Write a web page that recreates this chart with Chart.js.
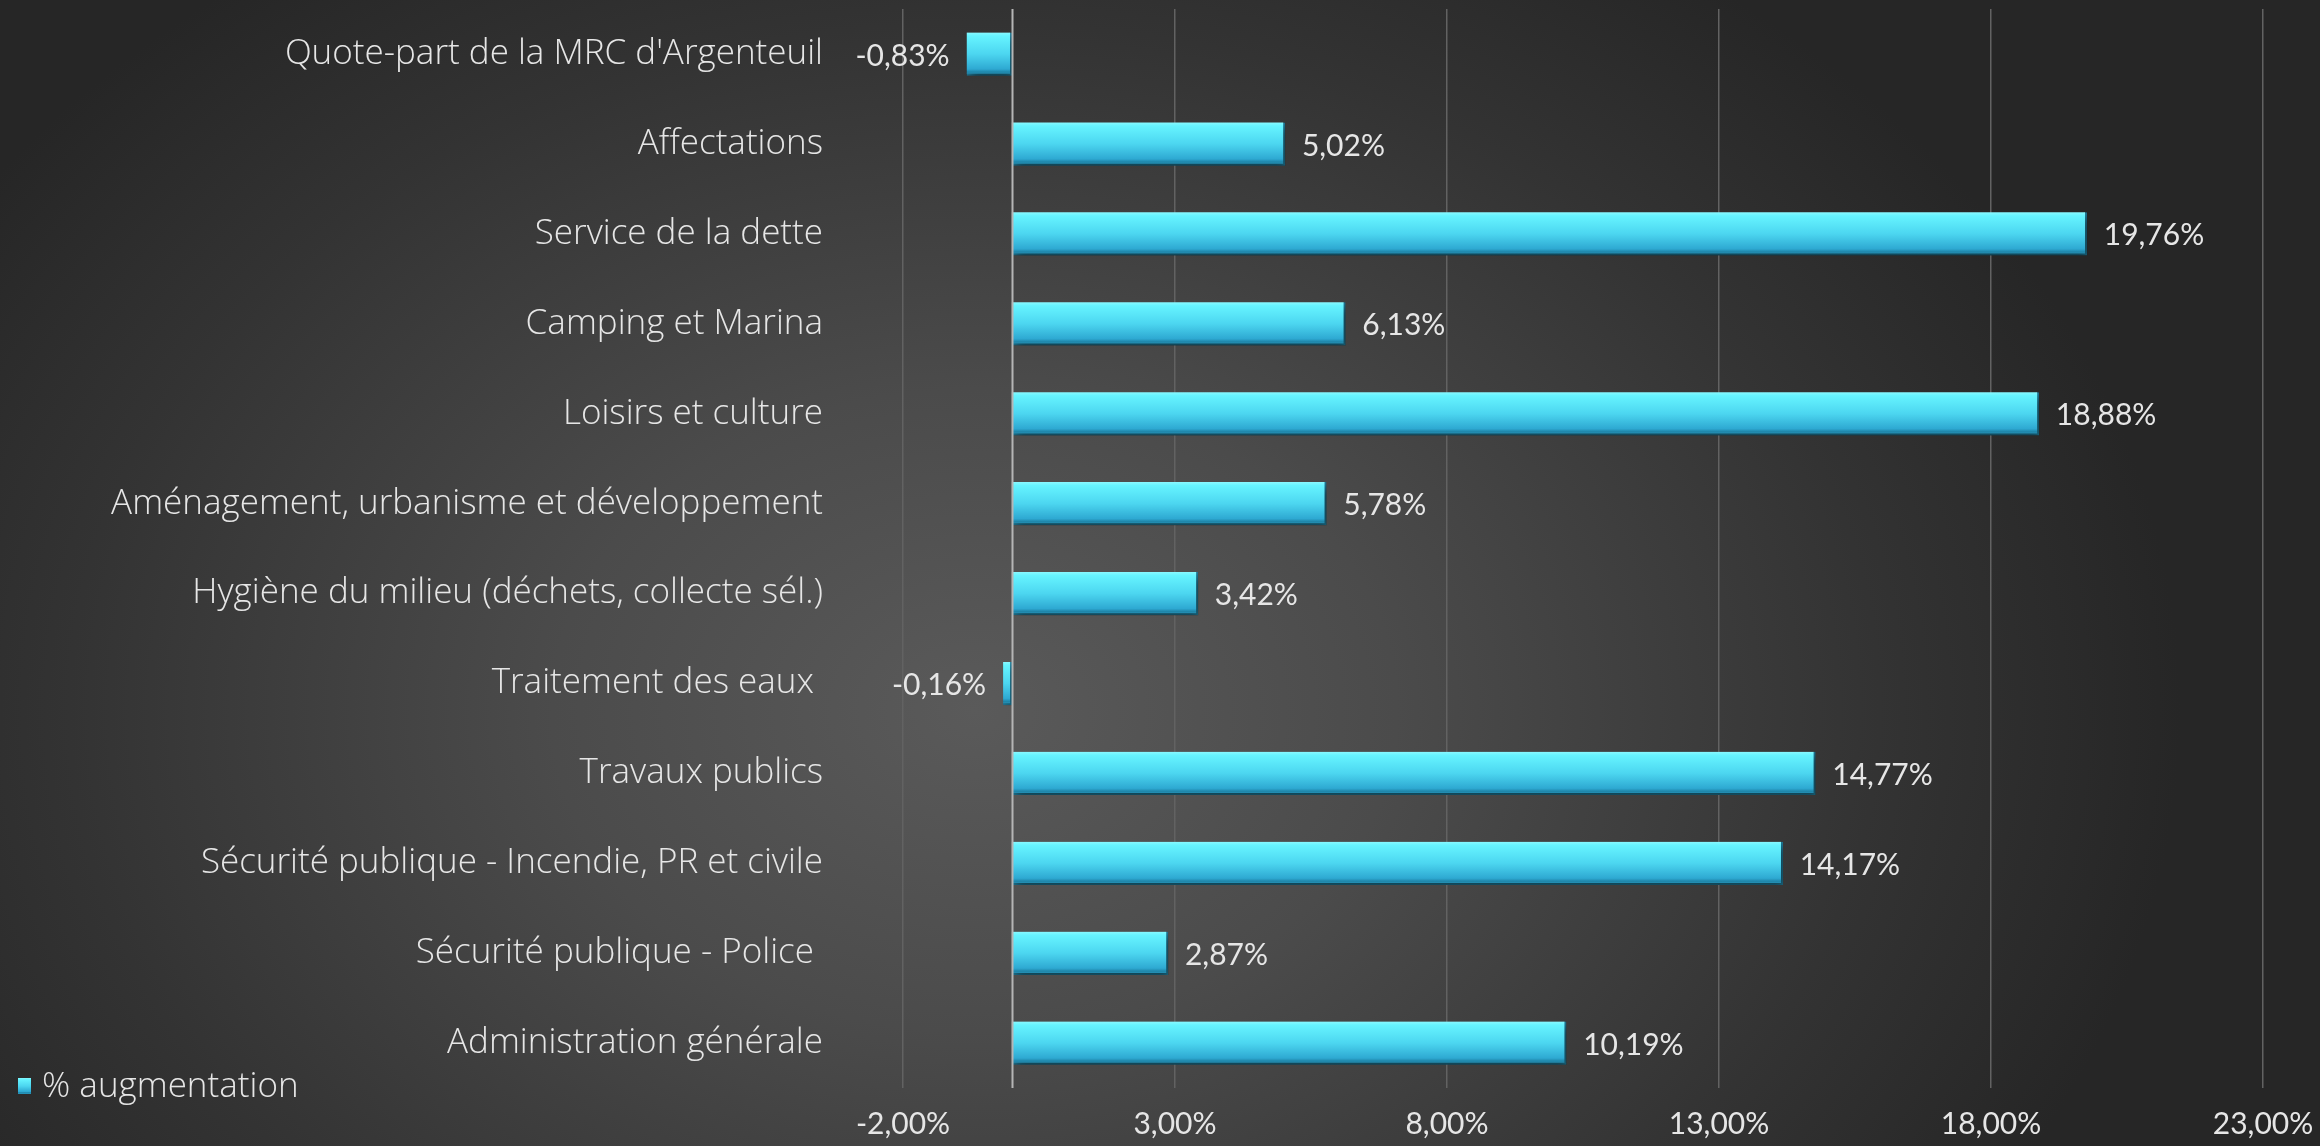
<!DOCTYPE html>
<html>
<head>
<meta charset="utf-8">
<script src="https://cdn.jsdelivr.net/npm/chart.js@4.4.0/dist/chart.umd.min.js"></script>
<style>
  html, body { margin: 0; padding: 0; }
  body {
    width: 2320px; height: 1146px; overflow: hidden;
    background: radial-gradient(ellipse 52% 80% at 42% 62%, #5a5a5a 0%, #4b4b4b 35%, #333 75%, #262626 100%);
  }
  canvas { display: block; }
</style>
</head>
<body>
<canvas id="chartAugmentation" width="2320" height="1146"></canvas>
<script>
const categories = [
    "Quote-part de la MRC d'Argenteuil",
    'Affectations',
    'Service de la dette',
    'Camping et Marina',
    'Loisirs et culture',
    'Aménagement, urbanisme et développement',
    'Hygiène du milieu (déchets, collecte sél.)',
    'Traitement des eaux ',
    'Travaux publics',
    'Sécurité publique - Incendie, PR et civile',
    'Sécurité publique - Police ',
    'Administration générale'
];
const augmentation = [-0.83, 5.02, 19.76, 6.13, 18.88, 5.78, 3.42, -0.16, 14.77, 14.17, 2.87, 10.19];
const axisMin = -2;
const axisMax = 23;
const axisStep = 5;
const seriesName = '% augmentation';

const labelFont = '"Open Sans", Lato, sans-serif';
const numberFont = 'Lato, "Open Sans", sans-serif';
const textColor = '#e6e6e6';

const pct = v => v.toFixed(2).replace('.', ',') + '%';

function barFill(ctx, top, bottom) {
    const g = ctx.createLinearGradient(0, top, 0, bottom);
    g.addColorStop(0, '#8af8ff');
    g.addColorStop(0.08, '#66f4ff');
    g.addColorStop(0.5, '#4cd6f0');
    g.addColorStop(0.85, '#2ea9d2');
    g.addColorStop(0.92, '#1f86aa');
    g.addColorStop(1, '#2a9ac0');
    return g;
}

// shadow under the bars, zero line, value labels, legend
const extras = {
    id: 'extras',
    beforeDatasetsDraw(chart) {
        const ctx = chart.ctx;
        ctx.save();
        ctx.shadowColor = 'rgba(0,0,0,0.55)';
        ctx.shadowBlur = 10;
        ctx.shadowOffsetX = 4;
        ctx.shadowOffsetY = 5;
    },
    afterDatasetsDraw(chart) {
        const ctx = chart.ctx;
        ctx.restore();
        const x = chart.scales.x;
        const area = chart.chartArea;
        const x0 = Math.round(x.getPixelForValue(0)) + 0.5;
        ctx.save();
        ctx.strokeStyle = '#b5b5b5';
        ctx.lineWidth = 2;
        ctx.beginPath();
        ctx.moveTo(x0, area.top);
        ctx.lineTo(x0, area.bottom);
        ctx.stroke();

        ctx.font = '30px ' + numberFont;
        ctx.fillStyle = textColor;
        ctx.textBaseline = 'middle';
        const meta = chart.getDatasetMeta(0);
        meta.data.forEach((bar, i) => {
            const v = augmentation[i];
            if (v >= 0) {
                ctx.textAlign = 'left';
                ctx.fillText(pct(v), bar.x + 17, bar.y + 2);
            } else {
                ctx.textAlign = 'right';
                ctx.fillText(pct(v), bar.x - 17, bar.y + 2);
            }
        });

        // legend, bottom left
        const lx = 18, ly = 1086;
        ctx.fillStyle = barFill(ctx, ly - 8, ly + 8);
        ctx.fillRect(lx, ly - 8, 13, 16);
        ctx.fillStyle = textColor;
        ctx.textAlign = 'left';
        ctx.font = '300 35px ' + labelFont;
        ctx.fillText(seriesName, lx + 24, ly + 1);
        ctx.restore();
    }
};

const ctx1 = document.getElementById('chartAugmentation').getContext('2d');
new Chart(ctx1, {
    type: 'bar',
    data: {
        labels: categories,
        datasets: [{
            label: seriesName,
            data: augmentation,
            backgroundColor: (c) => {
                const chart = c.chart;
                if (!chart.chartArea || c.dataIndex === undefined) return '#4cd6f0';
                const y = chart.scales.y.getPixelForValue(c.dataIndex);
                return barFill(chart.ctx, y - 21.5, y + 21.5);
            },
            borderColor: '#1f7f9f',
            borderWidth: { top: 0, bottom: 2, right: 2, left: 0 },
            barThickness: 43,
            borderSkipped: false
        }]
    },
    plugins: [extras],
    options: {
        indexAxis: 'y',
        responsive: false,
        animation: false,
        devicePixelRatio: 1,
        layout: { padding: { top: 9, right: 57, left: 0, bottom: 0 } },
        plugins: {
            legend: { display: false },
            tooltip: { enabled: false }
        },
        scales: {
            x: {
                min: axisMin,
                max: axisMax,
                ticks: {
                    stepSize: axisStep,
                    color: textColor,
                    font: { size: 30, family: numberFont },
                    padding: 18,
                    callback: v => pct(v)
                },
                grid: { color: '#626262', lineWidth: 1.5, drawTicks: false },
                border: { display: false },
                afterFit: s => { s.height = 58; s.paddingLeft = 0; s.paddingRight = 0; }
            },
            y: {
                ticks: {
                    color: textColor,
                    font: { size: 35, family: labelFont, weight: '300' },
                    padding: 80,
                    autoSkip: false
                },
                grid: { display: false, drawTicks: false },
                border: { display: false },
                afterFit: s => { s.width = 903; s.paddingTop = 0; s.paddingBottom = 0; }
            }
        }
    }
});
</script>
</body>
</html>
